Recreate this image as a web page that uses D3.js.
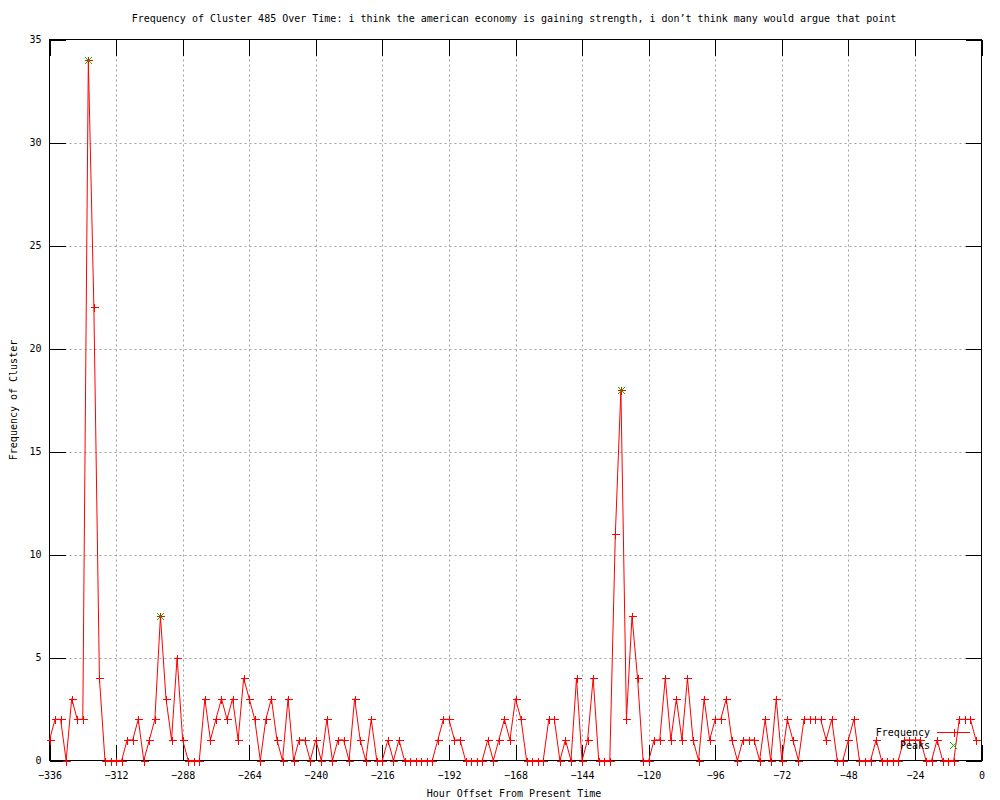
<!DOCTYPE html>
<html>
<head>
<meta charset="utf-8">
<script src="https://cdn.jsdelivr.net/npm/d3@7"></script>
<style>
  body { margin: 0; background: #fff; }
  text { font-family: "DejaVu Sans Mono", monospace; font-size: 10px; fill: #000; }
</style>
</head>
<body>
<script>
// hour offsets, one row per 24 hours
const hours = [
  -336, -334, -332, -330, -328, -326, -324, -322, -320, -318, -316, -314,
  -312, -310, -308, -306, -304, -302, -300, -298, -296, -294, -292, -290,
  -288, -286, -284, -282, -280, -278, -276, -274, -272, -270, -268, -266,
  -264, -262, -260, -258, -256, -254, -252, -250, -248, -246, -244, -242,
  -240, -238, -236, -234, -232, -230, -228, -226, -224, -222, -220, -218,
  -216, -214, -212, -210, -208, -206, -204, -202, -200, -198, -196, -194,
  -192, -190, -188, -186, -184, -182, -180, -178, -176, -174, -172, -170,
  -168, -166, -164, -162, -160, -158, -156, -154, -152, -150, -148, -146,
  -144, -142, -140, -138, -136, -134, -132, -130, -128, -126, -124, -122,
  -120, -118, -116, -114, -112, -110, -108, -106, -104, -102, -100, -98,
  -96, -94, -92, -90, -88, -86, -84, -82, -80, -78, -76, -74,
  -72, -70, -68, -66, -64, -62, -60, -58, -56, -54, -52, -50,
  -48, -46, -44, -42, -40, -38, -36, -34, -32, -30, -28, -26,
  -24, -22, -20, -18, -16, -14, -12, -10, -8, -6, -4, -2
];
const frequency = [
  1, 2, 2, 0, 3, 2, 2, 34, 22, 4, 0, 0,
  0, 0, 1, 1, 2, 0, 1, 2, 7, 3, 1, 5,
  1, 0, 0, 0, 3, 1, 2, 3, 2, 3, 1, 4,
  3, 2, 0, 2, 3, 1, 0, 3, 0, 1, 1, 0,
  1, 0, 2, 0, 1, 1, 0, 3, 1, 0, 2, 0,
  0, 1, 0, 1, 0, 0, 0, 0, 0, 0, 1, 2,
  2, 1, 1, 0, 0, 0, 0, 1, 0, 1, 2, 1,
  3, 2, 0, 0, 0, 0, 2, 2, 0, 1, 0, 4,
  0, 1, 4, 0, 0, 0, 11, 18, 2, 7, 4, 0,
  0, 1, 1, 4, 1, 3, 1, 4, 1, 0, 3, 1,
  2, 2, 3, 1, 0, 1, 1, 1, 0, 2, 0, 3,
  0, 2, 1, 0, 2, 2, 2, 2, 1, 2, 0, 0,
  1, 2, 0, 0, 0, 1, 0, 0, 0, 0, 1, 1,
  1, 1, 0, 0, 1, 0, 0, 0, 2, 2, 2, 1
];
const peakHours = [-322, -296, -130];
const peakValues = [34, 7, 18];

const xTicks = [-336, -312, -288, -264, -240, -216, -192, -168, -144, -120, -96, -72, -48, -24, 0];
const yTicks = [0, 5, 10, 15, 20, 25, 30, 35];

const titleText = "Frequency of Cluster 485 Over Time: i think the american economy is gaining strength, i don\u2019t think many would argue that point";

const width = 1000, height = 800;
const svg = d3.select("body").append("svg")
  .attr("width", width)
  .attr("height", height);

const x = d3.scaleLinear().domain([-336, 0]).range([49.5, 981.5]);
const y = d3.scaleLinear().domain([0, 35]).range([760.5, 39.5]);

const freq = hours.map((h, i) => ({ h: h, v: frequency[i] }));
const peaks = peakHours.map((h, i) => ({ h: h, v: peakValues[i] }));

// grid
svg.append("g").selectAll("line")
  .data(xTicks.slice(1, -1))
  .enter().append("line")
  .attr("x1", d => Math.round(x(d)) + 0.5).attr("x2", d => Math.round(x(d)) + 0.5)
  .attr("y1", y(35)).attr("y2", y(0))
  .attr("stroke", "#a0a0a0").attr("stroke-dasharray", "2,3");
svg.append("g").selectAll("line")
  .data(yTicks.slice(1, -1))
  .enter().append("line")
  .attr("y1", d => Math.round(y(d)) + 0.5).attr("y2", d => Math.round(y(d)) + 0.5)
  .attr("x1", x(-336)).attr("x2", x(0))
  .attr("stroke", "#a0a0a0").attr("stroke-dasharray", "2,3");

// axes, ticks on every side pointing inward
const tickLen = 16;
const fmt = d3.format("d");
const gBottom = svg.append("g").attr("transform", `translate(0,${y(0)})`)
  .call(d3.axisBottom(x).tickValues(xTicks).tickSizeInner(-tickLen).tickSizeOuter(0).tickPadding(11).tickFormat(fmt));
const gTop = svg.append("g").attr("transform", `translate(0,${y(35)})`)
  .call(d3.axisTop(x).tickValues(xTicks).tickSizeInner(-tickLen).tickSizeOuter(0).tickFormat(""));
const gLeft = svg.append("g").attr("transform", `translate(${x(-336)},0)`)
  .call(d3.axisLeft(y).tickValues(yTicks).tickSizeInner(-tickLen).tickSizeOuter(0).tickPadding(8));
const gRight = svg.append("g").attr("transform", `translate(${x(0)},0)`)
  .call(d3.axisRight(y).tickValues(yTicks).tickSizeInner(-tickLen).tickSizeOuter(0).tickFormat(""));

[gBottom, gTop, gLeft, gRight].forEach(g => {
  g.select(".domain").remove();
  g.selectAll("line").attr("stroke", "#000").attr("shape-rendering", "crispEdges");
  g.selectAll("text").style("font-family", "'DejaVu Sans Mono', monospace").style("font-size", "10px");
});

svg.append("rect")
  .attr("x", x(-336)).attr("y", y(35))
  .attr("width", x(0) - x(-336)).attr("height", y(0) - y(35))
  .attr("fill", "none").attr("stroke", "#000").attr("shape-rendering", "crispEdges");

// frequency line + markers
const line = d3.line().x(d => x(d.h)).y(d => y(d.v));
svg.append("path")
  .datum(freq)
  .attr("d", line)
  .attr("fill", "none")
  .attr("stroke", "#ff0000")
  .attr("stroke-width", 1);

const plus = (cx, cy, r) => `M${cx - r},${cy}H${cx + r}M${cx},${cy - r}V${cy + r}`;
const cross = (cx, cy, r) => `M${cx - r},${cy - r}L${cx + r},${cy + r}M${cx - r},${cy + r}L${cx + r},${cy - r}`;

svg.append("g").selectAll("path")
  .data(freq)
  .enter().append("path")
  .attr("d", d => plus(Math.round(x(d.h)) + 0.5, Math.round(y(d.v)) + 0.5, 4))
  .attr("stroke", "#ff0000")
  .attr("shape-rendering", "crispEdges");

svg.append("g").selectAll("path")
  .data(peaks)
  .enter().append("path")
  .attr("d", d => cross(Math.round(x(d.h)) + 0.5, Math.round(y(d.v)) + 0.5, 3.5))
  .attr("stroke", "#00c000");

// key
svg.append("text").attr("x", 930).attr("y", 736).attr("text-anchor", "end").text("Frequency");
svg.append("line").attr("x1", 937).attr("x2", 970).attr("y1", 732.5).attr("y2", 732.5).attr("stroke", "#ff0000");
svg.append("path").attr("d", plus(954.5, 732.5, 4)).attr("stroke", "#ff0000").attr("shape-rendering", "crispEdges");
svg.append("text").attr("x", 930).attr("y", 749).attr("text-anchor", "end").text("Peaks");
svg.append("path").attr("d", cross(953.5, 745.5, 3.5)).attr("stroke", "#00c000");

// titles
svg.append("text").attr("x", 514).attr("y", 22).attr("text-anchor", "middle").text(titleText);
svg.append("text").attr("x", 514).attr("y", 797).attr("text-anchor", "middle").text("Hour Offset From Present Time");
svg.append("text")
  .attr("transform", "translate(17,400) rotate(-90)")
  .attr("text-anchor", "middle")
  .text("Frequency of Cluster");
</script>
</body>
</html>
